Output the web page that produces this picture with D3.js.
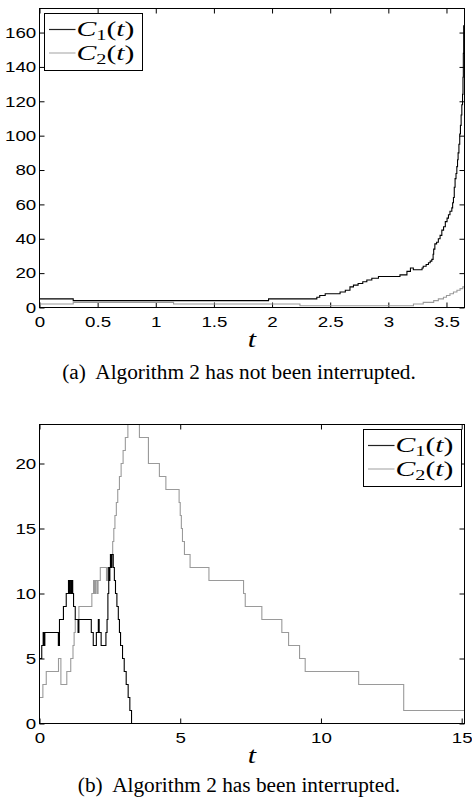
<!DOCTYPE html>
<html>
<head>
<meta charset="utf-8">
<script src="https://cdnjs.cloudflare.com/ajax/libs/d3/7.8.5/d3.min.js"></script>
<style>
body { margin: 0; background: #fff; }
svg { display: block; }
.tick text { font-family: "Liberation Sans", Arial, sans-serif; font-size: 15px; fill: #000; }
.caption { font-family: "Liberation Serif", "Times New Roman", serif; font-size: 21.3px; white-space: pre; }
.math { font-family: "Liberation Serif", "Times New Roman", serif; }
</style>
</head>
<body>
<svg id="main_svg" width="472" height="799"></svg>
<script>

// (a) not interrupted -------------------------------------------------------
var top_c1_t = [0, 0.29, 1.97, 2.385, 2.41, 2.457, 2.585, 2.63, 2.67, 2.70, 2.74, 2.78, 2.815, 2.858, 2.915,
    3.10, 3.16, 3.19, 3.215, 3.29, 3.30, 3.325, 3.345, 3.36, 3.374, 3.385, 3.39, 3.40, 3.415, 3.43, 3.445,
    3.46, 3.475, 3.49, 3.505, 3.517, 3.53, 3.546, 3.553, 3.56, 3.567, 3.574, 3.582, 3.589, 3.595, 3.60,
    3.607, 3.614, 3.62, 3.626, 3.632, 3.638, 3.642, 3.645, 3.648, 3.665];
var top_c1_v = [5, 4, 5, 6, 7, 8, 9, 10, 12, 13, 14, 15, 16, 17, 18,
    19, 21, 23, 22, 23, 24, 25, 26, 27, 28, 31, 34, 37, 38, 40, 42,
    45, 47, 50, 52, 54, 56, 58, 61, 64, 70, 75, 78, 82, 86, 90,
    95, 101, 106, 112, 118, 124, 134, 148, 164, 164];
var top_c2_t = [0, 0.29, 1.153, 2.24, 3.216, 3.30, 3.39, 3.43, 3.474, 3.50, 3.53, 3.56, 3.59, 3.617, 3.64, 3.665];
var top_c2_v = [2, 3, 2, 1, 2, 3, 4, 5, 6, 7, 8, 9, 10, 11, 12, 12];
var top_x_ticks = [0, 0.5, 1, 1.5, 2, 2.5, 3, 3.5];
var top_y_ticks = [0, 20, 40, 60, 80, 100, 120, 140, 160];

// (b) interrupted -----------------------------------------------------------
var bot_c1_t = [0, 0.08, 0.13, 0.14, 0.16, 0.17, 0.19, 0.67, 0.71, 0.85, 0.95, 1.03, 1.06, 1.08, 1.12, 1.15,
    1.18, 1.21, 1.27, 1.37, 1.40, 1.84, 1.91, 2.02, 2.09, 2.12, 2.19, 2.36, 2.40, 2.43, 2.46, 2.48, 2.50,
    2.52, 2.55, 2.57, 2.62, 2.66, 2.70, 2.75, 2.80, 2.84, 2.88, 2.95, 3.01, 3.08, 3.15, 3.21, 3.27, 3.35];
var bot_c1_v = [5, 6, 7, 6, 7, 6, 7, 6, 8, 9, 10, 11, 10, 11, 10, 11,
    10, 9, 8, 7, 8, 7, 6, 7, 8, 7, 6, 7, 8, 10, 12, 11, 12,
    13, 12, 13, 12, 11, 10, 9, 8, 7, 6, 5, 4, 3, 2, 1, 0, 0];
var bot_c2_t = [0, 0.12, 0.24, 0.675, 0.76, 0.97, 1.11, 1.19, 1.23, 1.27, 1.40, 1.86, 1.92, 1.96, 1.99, 2.04,
    2.08, 2.16, 2.38, 2.41, 2.45, 2.48, 2.53, 2.60, 2.64, 2.68, 2.73, 2.78, 2.84, 2.90, 2.97, 3.05, 3.14,
    3.24, 3.55, 3.87, 4.26, 4.49, 4.96, 5.00, 5.04, 5.08, 5.15, 5.35, 6.02, 7.25, 7.31, 7.90, 8.61, 8.85,
    9.24, 9.44, 11.34, 12.94, 15.1];
var bot_c2_v = [2, 3, 4, 5, 3, 4, 5, 6, 7, 8, 9, 10, 11, 10, 11, 10,
    11, 12, 11, 12, 11, 12, 13, 14, 15, 16, 17, 18, 19, 20, 21, 22, 23,
    25, 22, 20, 19, 18, 17, 16, 15, 14, 13, 12, 11, 10, 9, 8, 7, 6,
    5, 4, 3, 1, 1];
var bot_x_ticks = [0, 5, 10, 15];
var bot_y_ticks = [0, 5, 10, 15, 20];

var legend_subs = ["1", "2"];
var line_colors = ["#000000", "#9a9a9a"];
var legend_colors = ["#222222", "#b0b0b0"];
//-------------------------------------------------------------------------------------------------------------------------

var svg = d3.select("#main_svg");

draw_panel({
    id: "a", left: 39.5, right: 464.5, top: 8.5, bottom: 307.5,
    x_domain: [0, 3.655], y_domain: [0, 174],
    x_ticks: top_x_ticks, y_ticks: top_y_ticks,
    series: [d3.zip(top_c1_t, top_c1_v), d3.zip(top_c2_t, top_c2_v)],
    legend_x: 44.5, legend_y: 13.5,
    caption: "(a)  Algorithm 2 has not been interrupted.", caption_y: 379
});

draw_panel({
    id: "b", left: 39.5, right: 464.5, top: 424.5, bottom: 723.5,
    x_domain: [0, 15.1], y_domain: [0, 23],
    x_ticks: bot_x_ticks, y_ticks: bot_y_ticks,
    series: [d3.zip(bot_c1_t, bot_c1_v), d3.zip(bot_c2_t, bot_c2_v)],
    legend_x: 363.5, legend_y: 429.5,
    caption: "(b)  Algorithm 2 has been interrupted.", caption_y: 792
});

//-----------------------------------------------------------------------------
function draw_panel(p) {
    var x = d3.scaleLinear().domain(p.x_domain).range([p.left, p.right]);
    var y = d3.scaleLinear().domain(p.y_domain).range([p.bottom, p.top]);
    var fmt = d => String(d);

    svg.append("clipPath").attr("id", "clip-" + p.id)
        .append("rect")
        .attr("x", p.left).attr("y", p.top)
        .attr("width", p.right - p.left).attr("height", p.bottom - p.top);

    // axes, ticks pointing inward on all four sides
    var gx = svg.append("g").attr("transform", `translate(0,${p.bottom})`)
        .call(d3.axisBottom(x).tickValues(p.x_ticks).tickSize(-5).tickPadding(9).tickFormat(fmt));
    var gy = svg.append("g").attr("transform", `translate(${p.left},0)`)
        .call(d3.axisLeft(y).tickValues(p.y_ticks).tickSize(-5).tickPadding(2.6).tickFormat(fmt));
    var gt = svg.append("g").attr("transform", `translate(0,${p.top})`)
        .call(d3.axisTop(x).tickValues(p.x_ticks).tickSize(-5).tickFormat(""));
    var gr = svg.append("g").attr("transform", `translate(${p.right},0)`)
        .call(d3.axisRight(y).tickValues(p.y_ticks).tickSize(-5).tickFormat(""));

    [gx, gy, gt, gr].forEach(function(g) {
        g.select(".domain").remove();
        g.selectAll(".tick line").attr("stroke", "#000");
    });
    gx.selectAll("text").attr("transform", "scale(1.25,1)");
    gy.selectAll("text").attr("transform", "scale(1.25,1)");

    var line = d3.line()
        .x(d => x(d[0]))
        .y(d => y(d[1]))
        .curve(d3.curveStepAfter);

    // grey first so black sits on top
    svg.append("g").attr("clip-path", "url(#clip-" + p.id + ")")
        .selectAll("path")
        .data([p.series[1], p.series[0]])
        .enter().append("path")
        .attr("d", line)
        .attr("fill", "none")
        .attr("stroke", (d, i) => i == 0 ? line_colors[1] : line_colors[0])
        .attr("stroke-width", 1.1);

    svg.append("rect")
        .attr("x", p.left).attr("y", p.top)
        .attr("width", p.right - p.left).attr("height", p.bottom - p.top)
        .attr("fill", "none").attr("stroke", "#000").attr("stroke-width", 1);

    // legend
    var lg = svg.append("g").attr("transform", `translate(${p.legend_x},${p.legend_y})`);
    lg.append("rect").attr("width", 98).attr("height", 57)
        .attr("fill", "#fff").attr("stroke", "#000").attr("stroke-width", 1);

    legend_subs.forEach(function(sub, i) {
        var ly = 16 + i * 23.5;
        lg.append("line")
            .attr("x1", 4.5).attr("x2", 31)
            .attr("y1", ly).attr("y2", ly)
            .attr("stroke", legend_colors[i]).attr("stroke-width", 1.2);
        var t = lg.append("text").attr("class", "math")
            .attr("transform", `translate(32,${ly + 6.5}) scale(1.35,1)`)
            .attr("font-size", "22px");
        t.append("tspan").attr("font-style", "italic").text("C");
        t.append("tspan").attr("font-size", "15px").attr("dy", 4).text(sub);
        t.append("tspan").attr("dy", -4).text("(");
        t.append("tspan").attr("font-style", "italic").text("t");
        t.append("tspan").text(")");
    });

    // x label + caption
    svg.append("text").attr("class", "math")
        .attr("transform", `translate(${(p.left + p.right) / 2},${p.bottom + 39.5}) scale(1.3,1)`)
        .attr("text-anchor", "middle")
        .attr("font-size", "23px").attr("font-style", "italic")
        .text("t");

    svg.append("text").attr("class", "caption")
        .attr("x", 239).attr("y", p.caption_y)
        .attr("text-anchor", "middle")
        .text(p.caption);
}
</script>
</body>
</html>
